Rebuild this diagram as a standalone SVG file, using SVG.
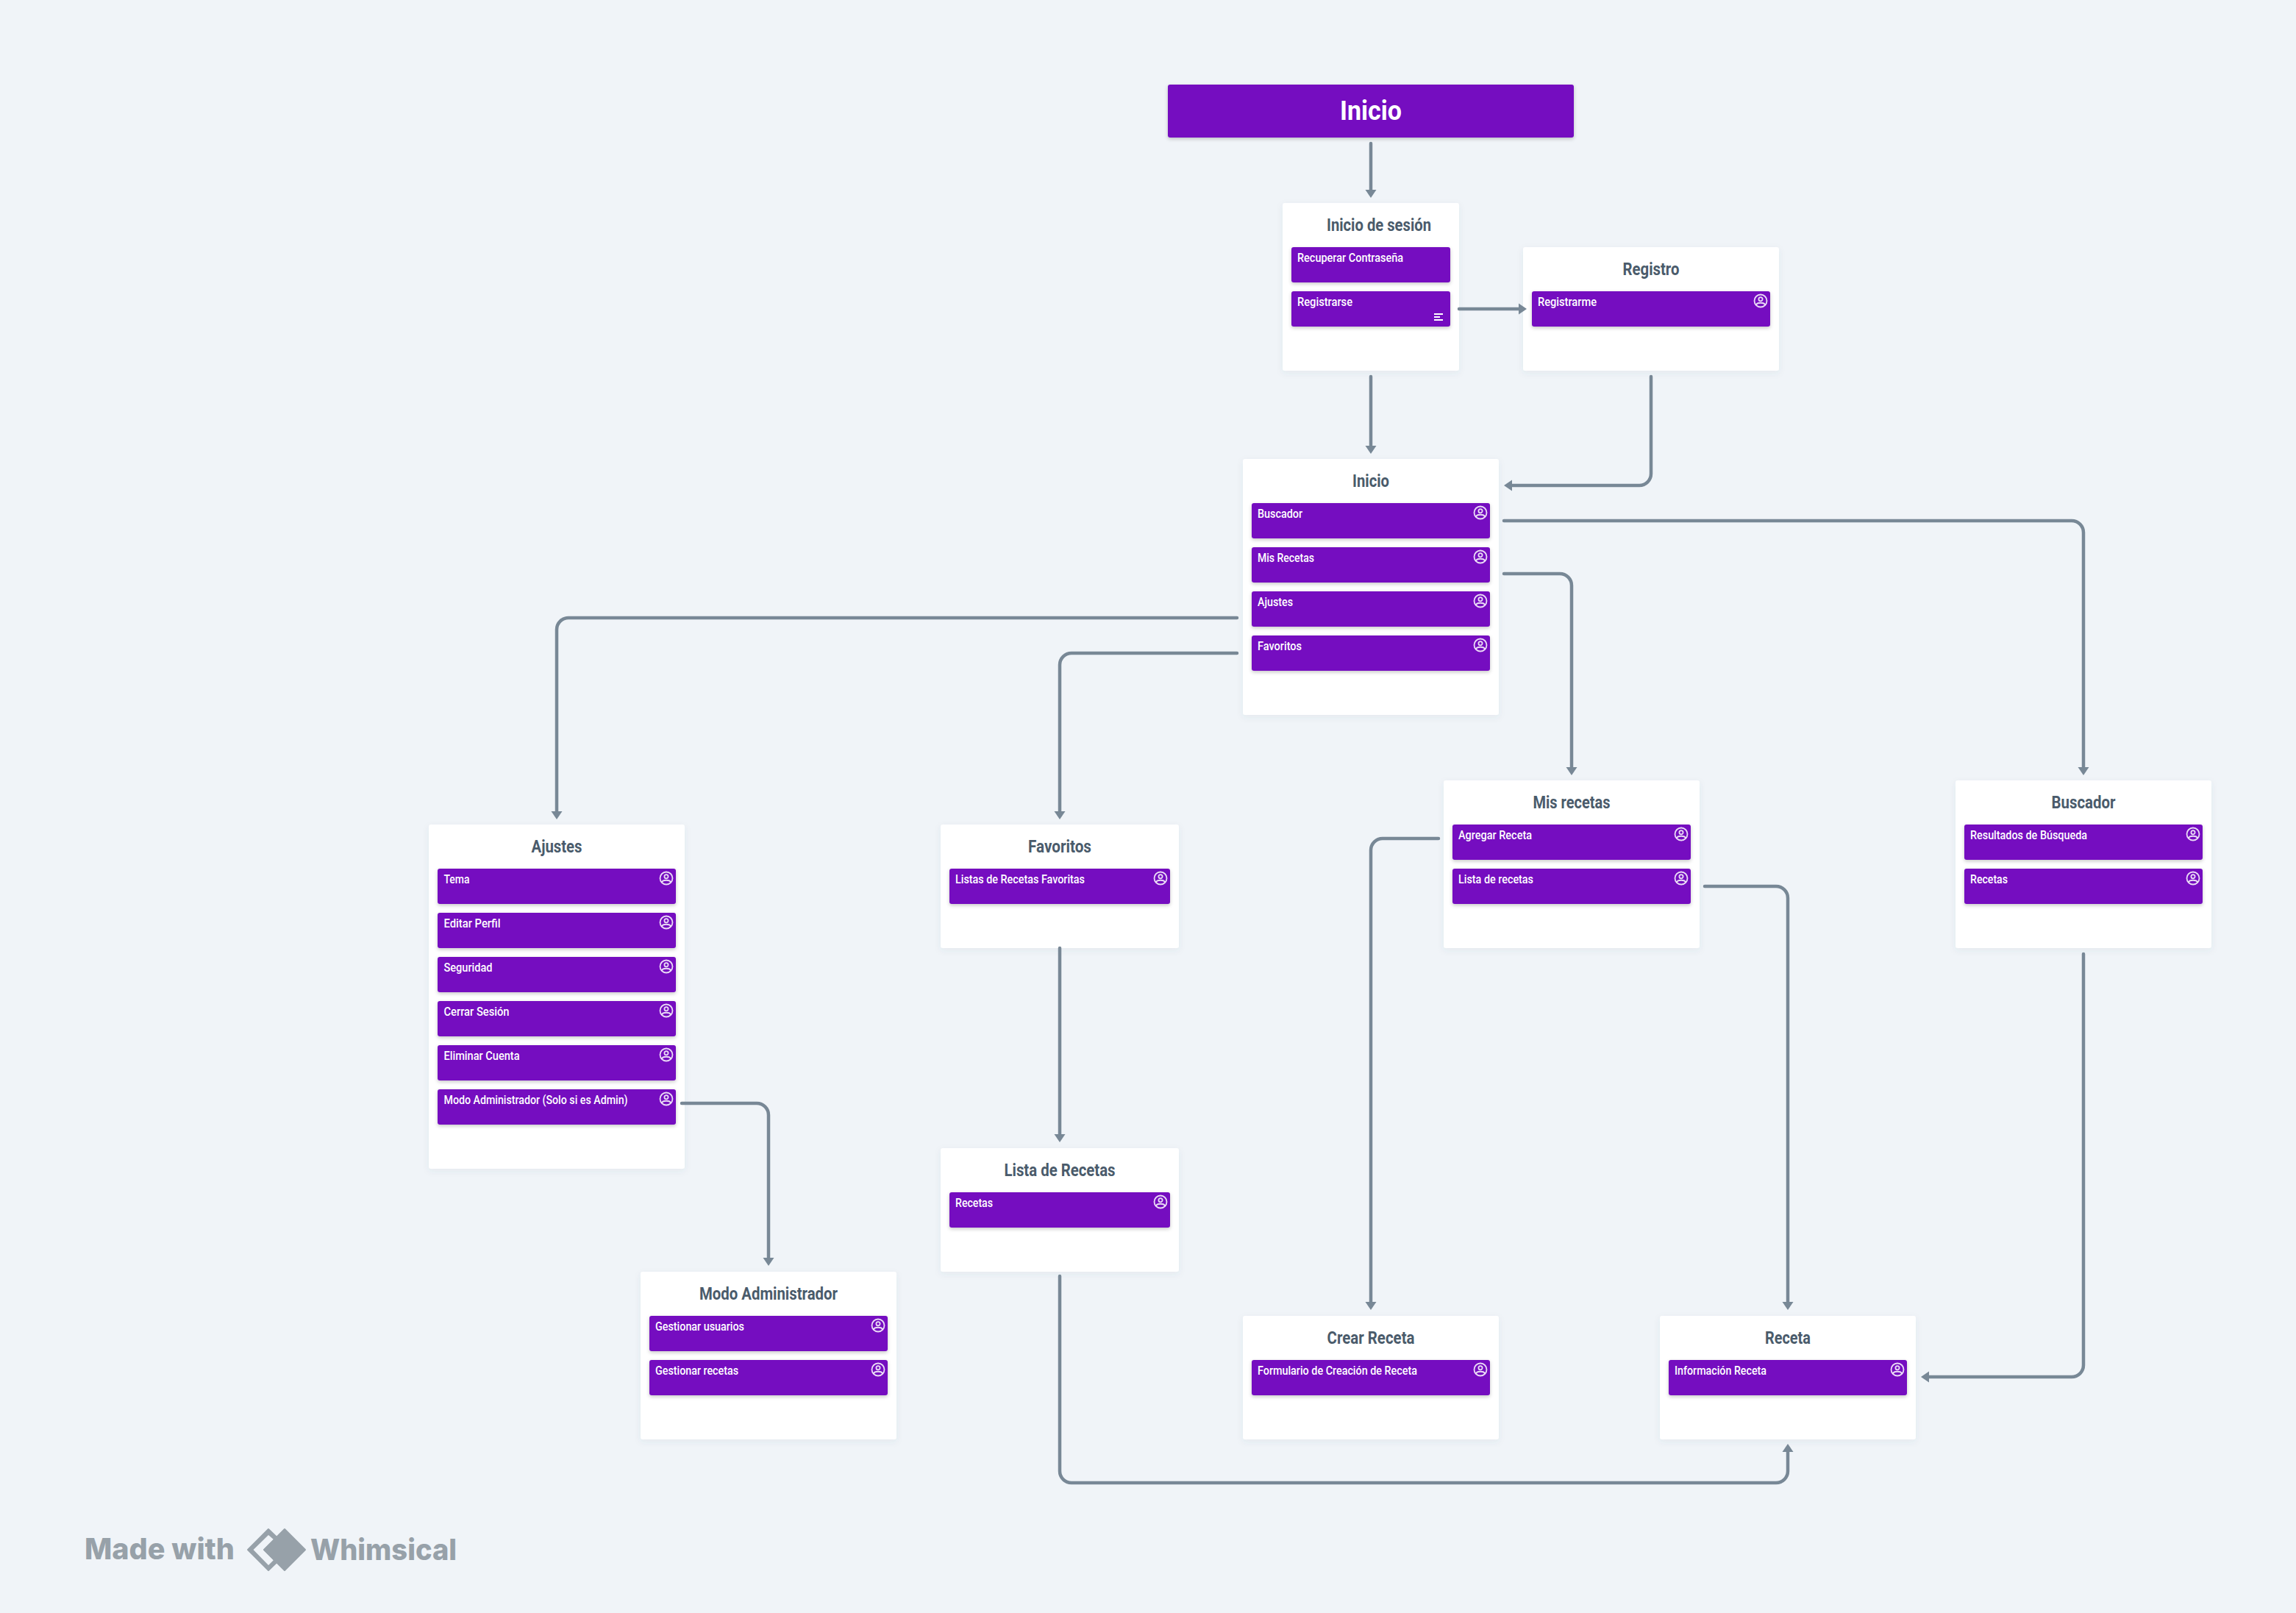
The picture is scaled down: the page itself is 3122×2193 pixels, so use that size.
<svg xmlns="http://www.w3.org/2000/svg" xmlns:xlink="http://www.w3.org/1999/xlink" width="3122" height="2193" viewBox="0 0 3122 2193">
<defs>
<style>
.card{fill:#fff;filter:url(#sc)}
.item{fill:#7510c0;filter:url(#si)}
.t{font:700 23px Roboto,"Liberation Sans",sans-serif;fill:#4a5b6b;text-anchor:middle}
.i{font:500 17px Roboto,"Liberation Sans",sans-serif;fill:#fff}
.conn{fill:none;stroke:#788896;stroke-width:4.500;stroke-linecap:round;marker-end:url(#a)}
.ft{font:800 40px Inter,"Liberation Sans",sans-serif;fill:#97a1a9}
</style>
<filter id="sc" x="-10%" y="-10%" width="120%" height="120%"><feDropShadow dx="0" dy="3" stdDeviation="5" flood-color="#4a5b6b" flood-opacity=".07"/></filter>
<filter id="si" x="-5%" y="-20%" width="110%" height="150%"><feDropShadow dx="0" dy="2" stdDeviation="2.500" flood-color="#000" flood-opacity=".22"/></filter>
<marker id="a" markerUnits="userSpaceOnUse" markerWidth="15" markerHeight="16" refX="2" refY="8" orient="auto"><path d="M0 .5L11 8L0 15.500Z" fill="#788896"/></marker>
<g id="u" fill="none" stroke="#fff" stroke-opacity=".85" stroke-width="1.800"><circle r="8.500"/><circle cy="-2.200" r="2.600"/><path d="M-6 5.500C-5 1.800 5 1.800 6 5.500"/></g>
</defs>
<rect width="3122" height="2193" fill="#f0f4f8"/>

<g id="inicio-bar">
<rect x="1588" y="115" width="552" height="72" rx="3" class="item"/>
<text x="1864" y="163" textLength="84" lengthAdjust="spacingAndGlyphs" style="font:700 36px Roboto,'Liberation Sans',sans-serif;fill:#fff;text-anchor:middle">Inicio</text>
</g>

<g id="inicio-sesion">
<rect x="1744" y="276" width="240" height="228" rx="3" class="card"/>
<text x="1875" y="313.500" class="t" textLength="142" lengthAdjust="spacingAndGlyphs">Inicio de sesión</text>
<rect x="1756" y="336" width="216" height="48" rx="3" class="item"/>
<text x="1764" y="355.500" class="i" textLength="144" lengthAdjust="spacingAndGlyphs">Recuperar Contraseña</text>
<rect x="1756" y="396" width="216" height="48" rx="3" class="item"/>
<text x="1764" y="415.500" class="i" textLength="75" lengthAdjust="spacingAndGlyphs">Registrarse</text>
<path d="M1950 427H1962M1950 431H1958M1950 435H1962" stroke="#fff" stroke-width="1.800" fill="none"/>
</g>

<g id="registro">
<rect x="2071" y="336" width="348" height="168" rx="3" class="card"/>
<text x="2245" y="373.500" class="t" textLength="77" lengthAdjust="spacingAndGlyphs">Registro</text>
<rect x="2083" y="396" width="324" height="48" rx="3" class="item"/>
<text x="2091" y="415.500" class="i" textLength="80" lengthAdjust="spacingAndGlyphs">Registrarme</text>
<use href="#u" x="2394" y="409"/>
</g>

<g id="inicio">
<rect x="1690" y="624" width="348" height="348" rx="3" class="card"/>
<text x="1864" y="661.500" class="t" textLength="50" lengthAdjust="spacingAndGlyphs">Inicio</text>
<rect x="1702" y="684" width="324" height="48" rx="3" class="item"/>
<text x="1710" y="703.500" class="i" textLength="61" lengthAdjust="spacingAndGlyphs">Buscador</text>
<use href="#u" x="2013" y="697"/>
<rect x="1702" y="744" width="324" height="48" rx="3" class="item"/>
<text x="1710" y="763.500" class="i" textLength="77" lengthAdjust="spacingAndGlyphs">Mis Recetas</text>
<use href="#u" x="2013" y="757"/>
<rect x="1702" y="804" width="324" height="48" rx="3" class="item"/>
<text x="1710" y="823.500" class="i" textLength="48" lengthAdjust="spacingAndGlyphs">Ajustes</text>
<use href="#u" x="2013" y="817"/>
<rect x="1702" y="864" width="324" height="48" rx="3" class="item"/>
<text x="1710" y="883.500" class="i" textLength="60" lengthAdjust="spacingAndGlyphs">Favoritos</text>
<use href="#u" x="2013" y="877"/>
</g>

<g id="ajustes">
<rect x="583" y="1121" width="348" height="468" rx="3" class="card"/>
<text x="757" y="1158.500" class="t" textLength="69" lengthAdjust="spacingAndGlyphs">Ajustes</text>
<rect x="595" y="1181" width="324" height="48" rx="3" class="item"/>
<text x="603.500" y="1200.500" class="i" textLength="35" lengthAdjust="spacingAndGlyphs">Tema</text>
<use href="#u" x="906" y="1194"/>
<rect x="595" y="1241" width="324" height="48" rx="3" class="item"/>
<text x="603.500" y="1260.500" class="i" textLength="77" lengthAdjust="spacingAndGlyphs">Editar Perfil</text>
<use href="#u" x="906" y="1254"/>
<rect x="595" y="1301" width="324" height="48" rx="3" class="item"/>
<text x="603.500" y="1320.500" class="i" textLength="66" lengthAdjust="spacingAndGlyphs">Seguridad</text>
<use href="#u" x="906" y="1314"/>
<rect x="595" y="1361" width="324" height="48" rx="3" class="item"/>
<text x="603.500" y="1380.500" class="i" textLength="89" lengthAdjust="spacingAndGlyphs">Cerrar Sesión</text>
<use href="#u" x="906" y="1374"/>
<rect x="595" y="1421" width="324" height="48" rx="3" class="item"/>
<text x="603.500" y="1440.500" class="i" textLength="103" lengthAdjust="spacingAndGlyphs">Eliminar Cuenta</text>
<use href="#u" x="906" y="1434"/>
<rect x="595" y="1481" width="324" height="48" rx="3" class="item"/>
<text x="603.500" y="1500.500" class="i" textLength="250" lengthAdjust="spacingAndGlyphs">Modo Administrador (Solo si es Admin)</text>
<use href="#u" x="906" y="1494"/>
</g>

<g id="favoritos">
<rect x="1279" y="1121" width="324" height="168" rx="3" class="card"/>
<text x="1441" y="1158.500" class="t" textLength="86" lengthAdjust="spacingAndGlyphs">Favoritos</text>
<rect x="1291" y="1181" width="300" height="48" rx="3" class="item"/>
<text x="1299" y="1200.500" class="i" textLength="176" lengthAdjust="spacingAndGlyphs">Listas de Recetas Favoritas</text>
<use href="#u" x="1578" y="1194"/>
</g>

<g id="mis-recetas">
<rect x="1963" y="1061" width="348" height="228" rx="3" class="card"/>
<text x="2137" y="1098.500" class="t" textLength="105" lengthAdjust="spacingAndGlyphs">Mis recetas</text>
<rect x="1975" y="1121" width="324" height="48" rx="3" class="item"/>
<text x="1983" y="1140.500" class="i" textLength="100" lengthAdjust="spacingAndGlyphs">Agregar Receta</text>
<use href="#u" x="2286" y="1134"/>
<rect x="1975" y="1181" width="324" height="48" rx="3" class="item"/>
<text x="1983" y="1200.500" class="i" textLength="102" lengthAdjust="spacingAndGlyphs">Lista de recetas</text>
<use href="#u" x="2286" y="1194"/>
</g>

<g id="buscador">
<rect x="2659" y="1061" width="348" height="228" rx="3" class="card"/>
<text x="2833" y="1098.500" class="t" textLength="87" lengthAdjust="spacingAndGlyphs">Buscador</text>
<rect x="2671" y="1121" width="324" height="48" rx="3" class="item"/>
<text x="2679" y="1140.500" class="i" textLength="159" lengthAdjust="spacingAndGlyphs">Resultados de Búsqueda</text>
<use href="#u" x="2982" y="1134"/>
<rect x="2671" y="1181" width="324" height="48" rx="3" class="item"/>
<text x="2679" y="1200.500" class="i" textLength="51" lengthAdjust="spacingAndGlyphs">Recetas</text>
<use href="#u" x="2982" y="1194"/>
</g>

<g id="lista-recetas">
<rect x="1279" y="1561" width="324" height="168" rx="3" class="card"/>
<text x="1441" y="1598.500" class="t" textLength="151" lengthAdjust="spacingAndGlyphs">Lista de Recetas</text>
<rect x="1291" y="1621" width="300" height="48" rx="3" class="item"/>
<text x="1299" y="1640.500" class="i" textLength="51" lengthAdjust="spacingAndGlyphs">Recetas</text>
<use href="#u" x="1578" y="1634"/>
</g>

<g id="modo-admin">
<rect x="871" y="1729" width="348" height="228" rx="3" class="card"/>
<text x="1045" y="1766.500" class="t" textLength="188" lengthAdjust="spacingAndGlyphs">Modo Administrador</text>
<rect x="883" y="1789" width="324" height="48" rx="3" class="item"/>
<text x="891" y="1808.500" class="i" textLength="121" lengthAdjust="spacingAndGlyphs">Gestionar usuarios</text>
<use href="#u" x="1194" y="1802"/>
<rect x="883" y="1849" width="324" height="48" rx="3" class="item"/>
<text x="891" y="1868.500" class="i" textLength="113" lengthAdjust="spacingAndGlyphs">Gestionar recetas</text>
<use href="#u" x="1194" y="1862"/>
</g>

<g id="crear-receta">
<rect x="1690" y="1789" width="348" height="168" rx="3" class="card"/>
<text x="1864" y="1826.500" class="t" textLength="119" lengthAdjust="spacingAndGlyphs">Crear Receta</text>
<rect x="1702" y="1849" width="324" height="48" rx="3" class="item"/>
<text x="1710" y="1868.500" class="i" textLength="217" lengthAdjust="spacingAndGlyphs">Formulario de Creación de Receta</text>
<use href="#u" x="2013" y="1862"/>
</g>

<g id="receta">
<rect x="2257" y="1789" width="348" height="168" rx="3" class="card"/>
<text x="2431" y="1826.500" class="t" textLength="62" lengthAdjust="spacingAndGlyphs">Receta</text>
<rect x="2269" y="1849" width="324" height="48" rx="3" class="item"/>
<text x="2277" y="1868.500" class="i" textLength="125" lengthAdjust="spacingAndGlyphs">Información Receta</text>
<use href="#u" x="2580" y="1862"/>
</g>

<g id="connectors">
<path class="conn" d="M1864 195V260"/>
<path class="conn" d="M1984 420H2067"/>
<path class="conn" d="M1864 512V608"/>
<path class="conn" d="M2245 512V644A16 16 0 0 1 2229 660H2054"/>
<path class="conn" d="M2045 708H2817A16 16 0 0 1 2833 724V1045"/>
<path class="conn" d="M2045 780H2121A16 16 0 0 1 2137 796V1045"/>
<path class="conn" d="M1682 840H773A16 16 0 0 0 757 856V1105"/>
<path class="conn" d="M1682 888H1457A16 16 0 0 0 1441 904V1105"/>
<path class="conn" d="M927 1500H1029A16 16 0 0 1 1045 1516V1712"/>
<path class="conn" d="M1441 1289V1544"/>
<path class="conn" d="M1441 1735V2000A16 16 0 0 0 1457 2016H2415A16 16 0 0 0 2431 2000V1972"/>
<path class="conn" d="M1956 1140H1880A16 16 0 0 0 1864 1156V1772"/>
<path class="conn" d="M2318 1205H2415A16 16 0 0 1 2431 1221V1772"/>
<path class="conn" d="M2833 1297V1856A16 16 0 0 1 2817 1872H2621"/>
</g>

<g id="footer">
<text x="115" y="2120" class="ft" textLength="204" lengthAdjust="spacingAndGlyphs">Made with</text>
<path d="M365 2079L394 2107L365 2135L337 2107Z" fill="#97a1a9" stroke="#97a1a9" stroke-width="2" stroke-linejoin="round"/>
<path d="M344.500 2107L365 2087L372 2093L358 2107L372 2121L365 2128Z" fill="#f0f4f8"/>
<path d="M387 2079L415 2107L387 2135L359 2107Z" fill="#97a1a9" stroke="#97a1a9" stroke-width="2" stroke-linejoin="round"/>
<text x="422" y="2121" class="ft" textLength="199" lengthAdjust="spacingAndGlyphs">Whimsical</text>
</g>
</svg>
